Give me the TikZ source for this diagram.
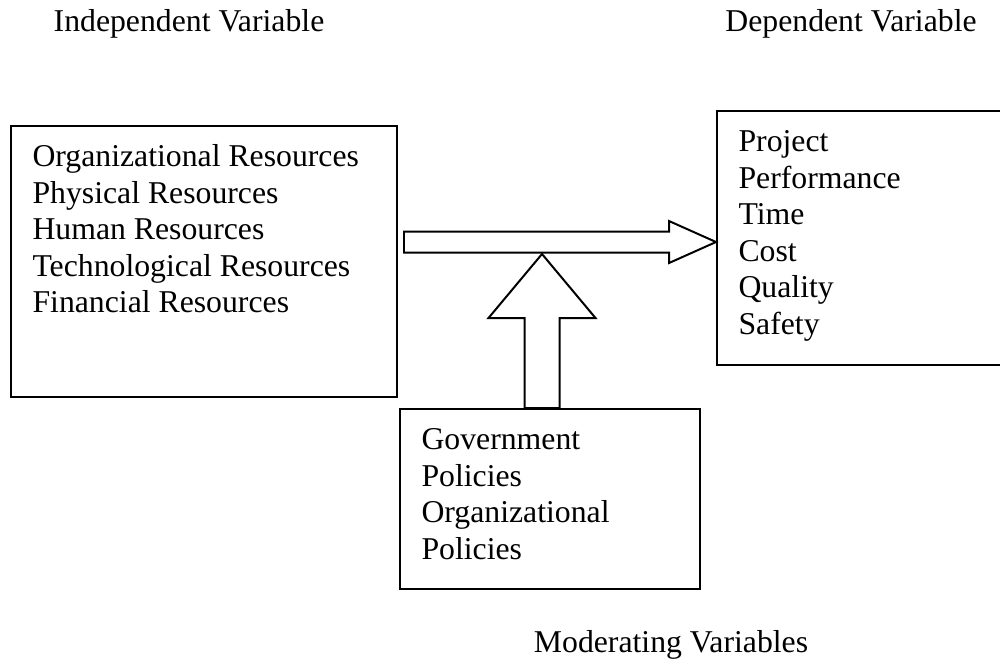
\documentclass[tikz,border=0pt]{standalone}
\usepackage{fontspec}
\setmainfont{Liberation Serif}
\usetikzlibrary{calc,fit}

\tikzset{
  box/.style={draw, line width=0.75pt, inner sep=0pt},
  boxtext/.style={anchor=north west, inner sep=0pt, align=left, font=\fontsize{12}{13.8}\selectfont},
  heading/.style={inner sep=0pt, font=\fontsize{12}{13.8}\selectfont},
  blockarrow/.style={draw, line width=0.75pt, fill=white, line join=miter}
}

\begin{document}
\begin{tikzpicture}[x=0.378pt,y=-0.378pt]
		\useasboundingbox (0,0) rectangle (1000,662);
		
		% headings
		\node[heading] (indhead) at (189,24) {Independent Variable};
		\node[heading] (dephead) at (851,24) {Dependent Variable};
		\node[heading] (modhead) at (671,645) {Moderating Variables};
		
		% boxes
		\node[box, fit={(11,126) (397,397)}] (indep) {};
		\node[boxtext] (indtext) at (32,144) {Organizational Resources\\Physical Resources\\Human Resources\\Technological Resources\\Financial Resources};
		
		\node[box, fit={(717,111) (1010,365)}] (dep) {};
		\node[boxtext] (deptext) at (738,130) {Project\\Performance\\Time\\Cost\\Quality\\Safety};
		
		\node[box, fit={(400,409) (700,589)}] (mod) {};
		\node[boxtext] (modtext) at (421,428) {Government\\Policies\\Organizational\\Policies};
		
		% block arrows
		\coordinate (htip) at (dep.west |- 0,242);
		\draw[blockarrow] ($(indep.east |- htip)+(6,-10.5)$) -- ($(htip)+(-47,-10.5)$) -- ($(htip)+(-47,-21)$) -- (htip)
			-- ($(htip)+(-47,21)$) -- ($(htip)+(-47,10.5)$) -- ($(indep.east |- htip)+(6,10.5)$) -- cycle;
		
		\coordinate (vtip) at (542,254);
		\draw[blockarrow] ($(vtip |- mod.north)+(-17.5,0)$) -- ($(vtip)+(-17.5,64)$) -- ($(vtip)+(-53.5,64)$) -- (vtip)
			-- ($(vtip)+(53.5,64)$) -- ($(vtip)+(17.5,64)$) -- ($(vtip |- mod.north)+(17.5,0)$) -- cycle;
	\end{tikzpicture}
\end{document}
